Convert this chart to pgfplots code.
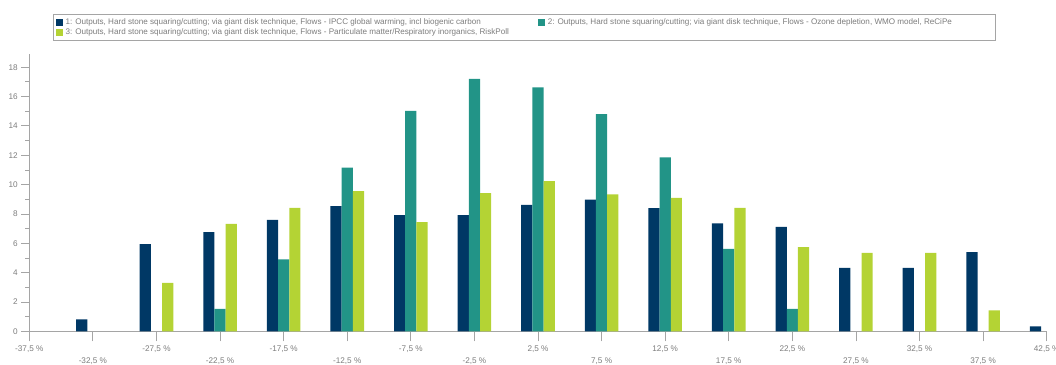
\documentclass[border=0pt]{standalone}
\usepackage{pgfplots}
\pgfplotsset{compat=1.18}
\usepackage{fontspec}
\setmainfont{Liberation Sans}
\definecolor{navy}{RGB}{0,56,101}
\definecolor{tealc}{RGB}{34,148,135}
\definecolor{limec}{RGB}{180,211,52}
\definecolor{axgray}{RGB}{165,165,165}
\definecolor{txtgray}{RGB}{125,125,125}
\begin{document}
\begin{tikzpicture}[x=1pt,y=1pt]
\path[use as bounding box] (0,0) rectangle (1056,364);
\begin{axis}[
  at={(29.3pt,32.7pt)}, anchor=south west,
  scale only axis, width=1017.4pt, height=277.3pt,
  xmin=0, xmax=16, ymin=0, ymax=18.9,
  axis x line*=bottom, axis y line*=left,
  axis line style={axgray, line width=1pt},
  tick style={axgray, line width=0.8pt},
  tick align=outside,
  ytick={0,2,...,18}, minor y tick num=1,
  major tick length=8pt, minor tick length=4pt,
  /pgf/number format/assume math mode=true,
  ticklabel style={font=\fontsize{8.2}{10}\selectfont, text=txtgray},
  xtick={0,2,...,16},
  xticklabels={-37{,}5 \%,-27{,}5 \%,-17{,}5 \%,-7{,}5 \%,2{,}5 \%,12{,}5 \%,22{,}5 \%,32{,}5 \%,42{,}5 \%},
  x tick style={/pgfplots/major tick length=10pt},
  x tick label style={yshift=-3pt},
  extra x ticks={1,3,...,15},
  extra x tick labels={-32{,}5 \%,-22{,}5 \%,-12{,}5 \%,-2{,}5 \%,7{,}5 \%,17{,}5 \%,27{,}5 \%,37{,}5 \%},
  extra x tick style={major tick length=10pt, tick label style={yshift=-10.3pt}},
  ybar=0pt, bar width=11.2pt,
  legend columns=2,
  legend style={at={(axis description cs:0.0236,1.1443)}, anchor=north west,
    draw=axgray, line width=0.8pt, inner xsep=2.5pt, inner ysep=3.2pt,
    nodes={inner sep=0.6pt, text height=6.5pt, text depth=2.2pt, font=\fontsize{8.1}{9}\selectfont, text=txtgray},
    row sep=0pt, column sep=0pt},
  legend image code/.code={\fill[#1] (0pt,-3.5pt) rectangle (7pt,3.5pt);},
]
\addplot[fill=navy, draw=none] coordinates {
(1,0.82) (2,5.94) (3,6.76) (4,7.60) (5,8.53) (6,7.92) (7,7.92) (8,8.62)
(9,8.98) (10,8.40) (11,7.35) (12,7.12) (13,4.32) (14,4.32) (15,5.39) (16,0.34)};
\addlegendentry{\makebox[474pt][l]{\hspace{1.8pt}1: Outputs, Hard stone squaring/cutting; via giant disk technique, Flows - IPCC global warming, incl biogenic carbon}}
\addplot[fill=tealc, draw=none] coordinates {
(3,1.52) (4,4.91) (5,11.15) (6,15.02) (7,17.2) (8,16.63) (9,14.81) (10,11.85) (11,5.62) (12,1.52)};
\addlegendentry{\makebox[446pt][l]{\hspace{1.8pt}2: Outputs, Hard stone squaring/cutting; via giant disk technique, Flows - Ozone depletion, WMO model, ReCiPe}}
\addplot[fill=limec, draw=none] coordinates {
(2,3.30) (3,7.32) (4,8.42) (5,9.56) (6,7.44) (7,9.42) (8,10.24) (9,9.33)
(10,9.10) (11,8.42) (12,5.73) (13,5.34) (14,5.34) (15,1.43)};
\addlegendentry{\makebox[474pt][l]{\hspace{1.8pt}3: Outputs, Hard stone squaring/cutting; via giant disk technique, Flows - Particulate matter/Respiratory inorganics, RiskPoll}}
\end{axis}
\end{tikzpicture}
\end{document}
